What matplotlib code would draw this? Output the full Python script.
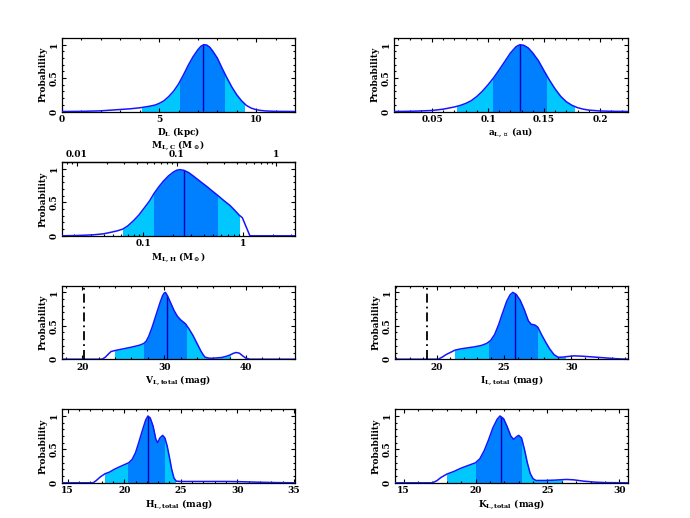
import numpy as np
import matplotlib
matplotlib.use('Agg')
import matplotlib.pyplot as plt
from matplotlib.patches import Rectangle
from matplotlib.ticker import (MultipleLocator, FixedLocator, NullFormatter, LogLocator,
                               FuncFormatter)

plt.rcParams['font.family'] = 'DejaVu Serif'
plt.rcParams['font.weight'] = 'bold'
plt.rcParams['font.size'] = 6.5
plt.rcParams['mathtext.fontset'] = 'custom'
plt.rcParams['mathtext.rm'] = 'DejaVu Serif:bold'
plt.rcParams['mathtext.it'] = 'DejaVu Serif:bold'
plt.rcParams['mathtext.bf'] = 'DejaVu Serif:bold'
plt.rcParams['mathtext.sf'] = 'DejaVu Serif:bold'
plt.rcParams['axes.linewidth'] = 0.9

# ---------------- data ----------------
dl_x = [0, 1, 2, 3, 3.5, 4, 4.5, 4.8, 5.0, 5.25, 5.5, 5.75, 6.0, 6.25, 6.5, 6.75, 7.0, 7.15,
        7.3, 7.45, 7.6, 7.75, 8.0, 8.25, 8.5, 8.75, 9.0, 9.25, 9.5, 9.75, 10.0, 10.25, 10.5,
        11, 12]
dl_y = [0, 0.002, 0.01, 0.03, 0.04, 0.055, 0.078, 0.097, 0.12, 0.16, 0.225, 0.305, 0.41,
        0.545, 0.69, 0.82, 0.925, 0.975, 1.0, 0.995, 0.965, 0.91, 0.8, 0.645, 0.5, 0.365,
        0.25, 0.16, 0.09, 0.05, 0.027, 0.015, 0.008, 0.002, 0]
dl_s1 = (6.08, 8.34)
dl_s2 = (4.1, 9.39)
dl_med = 7.25

a_x = [0.016, 0.03, 0.04, 0.05, 0.06, 0.07, 0.075, 0.08, 0.085, 0.09, 0.095, 0.1, 0.105,
       0.11, 0.115, 0.12, 0.125, 0.1285, 0.132, 0.136, 0.14, 0.145, 0.15, 0.155, 0.16,
       0.165, 0.17, 0.175, 0.18, 0.185, 0.19, 0.2, 0.21, 0.225]
a_y = [0, 0.003, 0.008, 0.015, 0.035, 0.068, 0.09, 0.12, 0.162, 0.225, 0.305, 0.4, 0.505,
       0.625, 0.75, 0.875, 0.97, 1.0, 0.99, 0.95, 0.875, 0.76, 0.61, 0.465, 0.335, 0.225,
       0.145, 0.092, 0.057, 0.035, 0.021, 0.008, 0.003, 0]
a_s1 = (0.1045, 0.152)
a_s2 = (0.0727, 0.177)
a_med = 0.1285

m_x = [0.0153, 0.02, 0.025, 0.0316, 0.04, 0.0464, 0.055, 0.0621, 0.07, 0.0794, 0.09, 0.1,
       0.115, 0.128, 0.143, 0.158, 0.178, 0.2, 0.215, 0.23, 0.255, 0.285, 0.316, 0.37, 0.43,
       0.49, 0.55, 0.63, 0.736, 0.83, 0.91, 0.98, 1.166, 3.3]
m_y = [0, 0.003, 0.008, 0.015, 0.03, 0.05, 0.075, 0.1, 0.15, 0.225, 0.31, 0.4, 0.52, 0.635,
       0.735, 0.815, 0.895, 0.955, 0.98, 0.99, 0.98, 0.945, 0.895, 0.815, 0.74, 0.67, 0.61,
       0.535, 0.455, 0.375, 0.31, 0.27, 0, 0]
m_s1 = (0.128, 0.55)
m_s2 = (0.0621, 0.91)
m_med = 0.255
mass_ratio = 0.465

v_x = [17.5, 22.4, 22.8, 23.2, 23.5, 24.0, 25.0, 26.0, 27.0, 27.5, 27.8, 28.1, 28.5, 29.0,
       29.5, 29.8, 30.0, 30.15, 30.4, 30.8, 31.2, 31.6, 32.0, 32.6, 33.0, 33.5, 34.0, 34.5,
       34.8, 35.0, 35.5, 36.0, 37.0, 37.5, 38.0, 38.5, 38.8, 39.2, 39.6, 40.0, 40.5, 46]
v_y = [0, 0, 0.03, 0.08, 0.115, 0.13, 0.155, 0.18, 0.21, 0.235, 0.27, 0.34, 0.47, 0.66,
       0.85, 0.95, 0.99, 1.0, 0.95, 0.84, 0.73, 0.645, 0.59, 0.53, 0.46, 0.36, 0.24, 0.12,
       0.06, 0.03, 0.015, 0.015, 0.025, 0.04, 0.06, 0.09, 0.1, 0.09, 0.05, 0.015, 0, 0]
v_s1 = (27.55, 32.65)
v_s2 = (23.96, 38.1)
v_med = 30.3
v_src = 20.2

i_x = [16.9, 20.1, 20.4, 20.7, 21.0, 21.35, 21.8, 22.3, 22.8, 23.3, 23.7, 24.0, 24.3, 24.6,
       24.9, 25.2, 25.45, 25.65, 25.9, 26.2, 26.5, 26.8, 27.0, 27.3, 27.5, 27.8, 28.1, 28.4,
       28.7, 29.0, 29.3, 29.7, 30.2, 30.8, 31.5, 32.5, 33.3, 34.2]
i_y = [0, 0, 0.03, 0.07, 0.1, 0.135, 0.155, 0.17, 0.185, 0.205, 0.235, 0.28, 0.37, 0.52,
       0.7, 0.87, 0.965, 1.0, 0.97, 0.88, 0.74, 0.575, 0.525, 0.51, 0.48, 0.36, 0.25, 0.15,
       0.07, 0.03, 0.03, 0.04, 0.05, 0.045, 0.035, 0.02, 0.008, 0]
i_s1 = (23.9, 27.47)
i_s2 = (21.35, 29.5)
i_med = 25.8
i_src = 19.25

h_x = [14.5, 17.25, 17.5, 17.9, 18.3, 18.7, 19.1, 19.6, 20.0, 20.4, 20.7, 21.0, 21.3, 21.6,
       21.9, 22.1, 22.3, 22.55, 22.8, 22.95, 23.15, 23.4, 23.6, 23.8, 24.0, 24.2, 24.4, 24.6,
       25.0, 27.0, 29.0, 30.0, 32.0, 33.5, 35.1]
h_y = [0, 0, 0.03, 0.09, 0.135, 0.16, 0.2, 0.24, 0.27, 0.3, 0.35, 0.45, 0.61, 0.78, 0.94,
       1.0, 0.97, 0.85, 0.65, 0.6, 0.67, 0.71, 0.67, 0.55, 0.38, 0.2, 0.07, 0.025, 0.02,
       0.02, 0.02, 0.018, 0.008, 0.003, 0]
h_s1 = (20.35, 23.55)
h_s2 = (18.31, 24.5)
h_med = 22.1

k_x = [14.4, 17.0, 17.3, 17.6, 18.0, 18.5, 19.0, 19.5, 20.0, 20.3, 20.6, 20.9, 21.2, 21.5,
       21.7, 21.95, 22.2, 22.45, 22.65, 22.85, 23.0, 23.2, 23.4, 23.6, 23.8, 24.0, 24.2,
       24.8, 25.5, 26.3, 26.8, 27.5, 28.3, 29.0, 30.6]
k_y = [0, 0, 0.03, 0.08, 0.13, 0.17, 0.22, 0.26, 0.3, 0.36, 0.48, 0.64, 0.82, 0.95, 1.0,
       0.96, 0.84, 0.7, 0.65, 0.69, 0.71, 0.67, 0.5, 0.3, 0.14, 0.06, 0.035, 0.035, 0.04,
       0.05, 0.045, 0.025, 0.01, 0.003, 0]
k_s1 = (20.0, 23.15)
k_s2 = (18.03, 26.0)
k_med = 21.74

# ---------------- style ----------------
C_2SIG = '#00c8ff'
C_1SIG = '#0080ff'
C_LINE = '#1414ff'
C_MED = '#0000b4'
FS = 6.5

W, H = 690, 518
fig = plt.figure(figsize=(W / 100, H / 100), dpi=100)
gfmt = FuncFormatter(lambda v, p: '%g' % v)


def make_ax(left, top, width=233, height=73.5):
    return fig.add_axes([left / W, 1 - (top + height) / H, width / W, height / H])


def bold_ticks(axis_obj):
    for lab in axis_obj.get_ticklabels():
        lab.set_fontweight('bold')
        lab.set_fontsize(FS)


def style(ax, xmajor=None, xminor=None):
    ax.set_ylim(0, 1.1)
    ax.yaxis.set_major_locator(FixedLocator([0, 0.5, 1]))
    ax.yaxis.set_major_formatter(gfmt)
    ax.yaxis.set_minor_locator(MultipleLocator(0.1))
    if xmajor is not None:
        ax.xaxis.set_major_locator(MultipleLocator(xmajor))
        ax.xaxis.set_minor_locator(MultipleLocator(xminor))
        ax.xaxis.set_major_formatter(gfmt)
    ax.tick_params(which='both', direction='in', top=True, right=True, width=0.8,
                   labelsize=FS, pad=2.5)
    ax.tick_params(which='major', length=3.2)
    ax.tick_params(which='minor', length=1.7)
    ax.tick_params(axis='y', labelrotation=90)
    for lab in ax.get_yticklabels():
        lab.set_va('center')
    bold_ticks(ax.xaxis)
    bold_ticks(ax.yaxis)
    ax.set_ylabel('Probability', fontsize=FS, fontweight='bold', labelpad=1.5)


def draw(ax, x, y, s1, s2, med, src=None):
    full = ax.fill_between(x, 0, y, color='none', lw=0)
    path = full.get_paths()[0]
    f2 = ax.fill_between(x, 0, y, color=C_2SIG, lw=0, zorder=1)
    f2.set_clip_path(Rectangle((s2[0], -1), s2[1] - s2[0], 3, transform=ax.transData))
    f1 = ax.fill_between(x, 0, y, color=C_1SIG, lw=0, zorder=1.5)
    f1.set_clip_path(Rectangle((s1[0], -1), s1[1] - s1[0], 3, transform=ax.transData))
    ml = ax.axvline(med, color=C_MED, lw=1.0, zorder=2)
    ml.set_clip_path(path, ax.transData)
    ax.plot(x, y, color=C_LINE, lw=1.1, zorder=3, solid_joinstyle='round')
    if src is not None:
        ax.axvline(src, color='k', lw=1.3, ls=(0, (5, 2.2, 1.0, 2.2)), zorder=4)
    ax.set_xlim(x[0], x[-1])


def xlab(ax, text, pad=1):
    ax.set_xlabel(text, fontsize=FS, fontweight='bold', labelpad=pad)


# D_L
ax = make_ax(62, 38)
draw(ax, dl_x, dl_y, dl_s1, dl_s2, dl_med)
style(ax, 5, 1)
xlab(ax, r'D$_{\rm L}$ (kpc)')

# a perp
ax = make_ax(394, 38, width=234)
draw(ax, a_x, a_y, a_s1, a_s2, a_med)
style(ax, 0.05, 0.01)
xlab(ax, r'a$_{\rm L,\perp}$ (au)')

# mass
ax = make_ax(62, 162.3)
ax.set_xscale('log')
draw(ax, m_x, m_y, m_s1, m_s2, m_med)
style(ax)
ax.xaxis.set_major_locator(FixedLocator([0.1, 1]))
ax.xaxis.set_major_formatter(gfmt)
ax.xaxis.set_minor_locator(LogLocator(base=10, subs=np.arange(2, 10)))
ax.xaxis.set_minor_formatter(NullFormatter())
ax.tick_params(which='both', top=False)
bold_ticks(ax.xaxis)
xlab(ax, r'M$_{\rm L,H}$ (M$_\odot$)')
sec = ax.secondary_xaxis('top', functions=(lambda v: v * mass_ratio, lambda v: v / mass_ratio))
sec.xaxis.set_major_locator(FixedLocator([0.01, 0.1, 1]))
sec.xaxis.set_major_formatter(gfmt)
sec.xaxis.set_minor_locator(LogLocator(base=10, subs=np.arange(2, 10)))
sec.xaxis.set_minor_formatter(NullFormatter())
sec.tick_params(which='both', direction='in', width=0.8, labelsize=FS, pad=2.5)
sec.tick_params(which='major', length=3.2)
sec.tick_params(which='minor', length=1.7)
bold_ticks(sec.xaxis)
sec.set_xlabel(r'M$_{\rm L,C}$ (M$_\odot$)', fontsize=FS, fontweight='bold', labelpad=2)

# V
ax = make_ax(62, 285.7)
draw(ax, v_x, v_y, v_s1, v_s2, v_med, v_src)
style(ax, 10, 2)
xlab(ax, r'V$_{\rm L,total}$ (mag)')

# I
ax = make_ax(395, 285.7)
draw(ax, i_x, i_y, i_s1, i_s2, i_med, i_src)
style(ax, 5, 1)
xlab(ax, r'I$_{\rm L,total}$ (mag)')

# H
ax = make_ax(62, 409.3)
draw(ax, h_x, h_y, h_s1, h_s2, h_med)
style(ax, 5, 1)
xlab(ax, r'H$_{\rm L,total}$ (mag)')

# K
ax = make_ax(395, 409.3)
draw(ax, k_x, k_y, k_s1, k_s2, k_med)
style(ax, 5, 1)
xlab(ax, r'K$_{\rm L,total}$ (mag)')

fig.savefig('out.png', dpi=100)
